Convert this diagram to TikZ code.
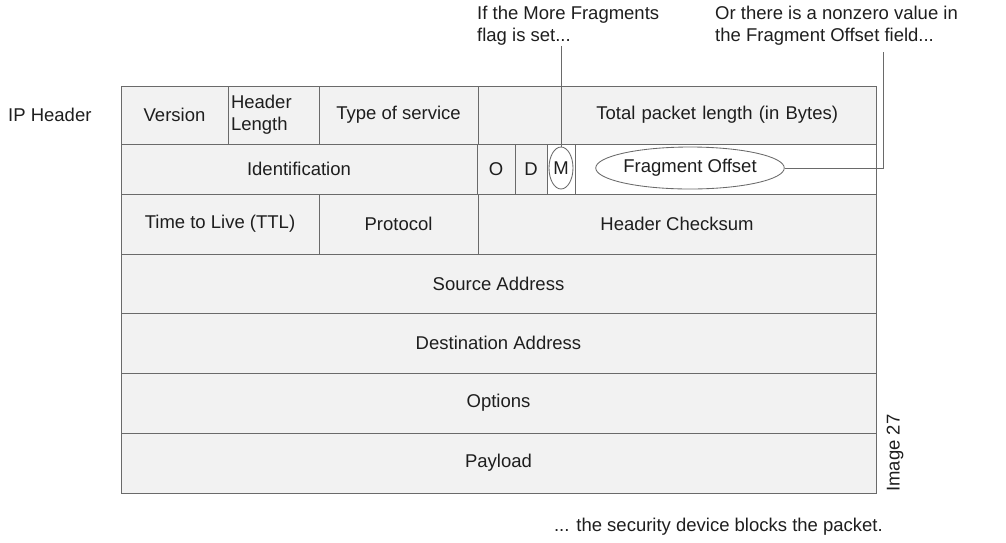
\documentclass[tikz,border=0pt]{standalone}
\usepackage{fontspec}
\setmainfont{Liberation Sans}
\usetikzlibrary{shapes.geometric}
\definecolor{cellgray}{HTML}{F2F2F2}
\definecolor{linegray}{HTML}{6A6A6A}
\definecolor{txt}{HTML}{1E1E1E}
\begin{document}
\begin{tikzpicture}[x=1pt,y=-1pt,
  every node/.style={font=\fontsize{18.5}{22}\selectfont, text=txt},
  cell/.style={draw=linegray, line width=0.85pt, fill=cellgray, rectangle, inner sep=0pt, anchor=center},
  whitecell/.style={cell, fill=white},
  plain/.style={inner sep=0pt},
  oval/.style={draw=linegray, line width=0.85pt, ellipse, inner sep=0pt},
  conn/.style={draw=linegray, line width=0.85pt}]
\useasboundingbox (0,0) rectangle (1006,542);
% row 1
\node[cell, minimum width=107, minimum height=58] (ver) at (174.5,115) {Version};
\node[cell, minimum width=91, minimum height=58, text width=85, align=left, inner xsep=3] (hl) at (273.5,115) {Header\\Length};
\node[cell, minimum width=159, minimum height=58] (tos) at (398.5,115) {Type of service};
\node[cell, minimum width=398, minimum height=58, text width=322, align=right, inner xsep=38] (tpl) at (677,115) {Total packet length (in Bytes)};
% row 2
\node[cell, minimum width=356, minimum height=50] (ident) at (299,169) {Identification};
\node[cell, minimum width=38, minimum height=50] (o) at (496,169) {O};
\node[cell, minimum width=32, minimum height=50] (d) at (531,169) {D};
\node[whitecell, minimum width=28, minimum height=50] (m) at (561,169) {};
\node[whitecell, minimum width=301, minimum height=50] (frag) at (725.5,169) {};
\node[oval, minimum width=24, minimum height=42] (mell) at (561,168) {M};
\node[oval, minimum width=169, minimum height=42] (foell) at (690,168) {Fragment Offset};
% row 3
\node[cell, minimum width=198, minimum height=60] (ttl) at (220,224) {Time to Live (TTL)};
\node[cell, minimum width=159, minimum height=60] (proto) at (398.5,224) {Protocol};
\node[cell, minimum width=398, minimum height=60] (chk) at (677,224) {Header Checksum};
% rows 4-7
\node[cell, minimum width=755, minimum height=59] (src) at (498.5,283.5) {Source Address};
\node[cell, minimum width=755, minimum height=60] (dst) at (498.5,343) {Destination Address};
\node[cell, minimum width=755, minimum height=60] (opt) at (498.5,403) {Options};
\node[cell, minimum width=755, minimum height=60] (pay) at (498.5,463) {Payload};
% labels
\node[plain, anchor=west] (iph) at (8,115) {IP Header};
\node[plain, anchor=north west, align=left] (mtext) at (477,6) {If the More Fragments\\flag is set...};
\node[plain, anchor=north west, align=left] (otext) at (715,6) {Or there is a nonzero value in\\the Fragment Offset field...};
\node[plain, anchor=east] (block) at (883,527) {... the security device blocks the packet.};
\node[plain, rotate=90] (img) at (895,453) {Image 27};
% connectors
\coordinate (ocorner) at (883,52);
\draw[conn] (mell.north) -- (mell.north |- mtext.south);
\draw[conn] (foell.east) -| (ocorner);
\end{tikzpicture}
\end{document}
